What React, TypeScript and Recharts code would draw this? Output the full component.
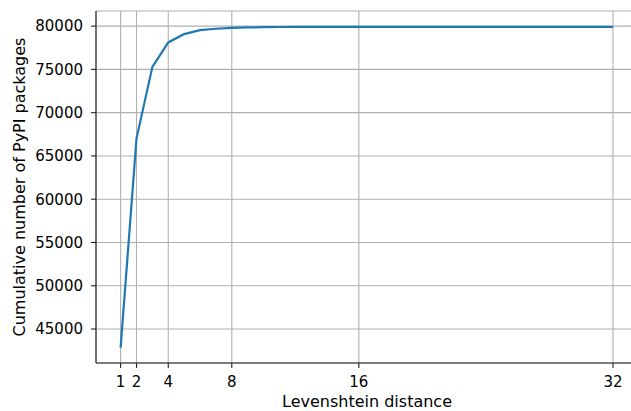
import React from 'react'
import { LineChart, Line, XAxis, YAxis, CartesianGrid } from 'recharts'

const distances = [
  1, 2, 3, 4, 5, 6, 7, 8, 9, 10, 11, 12, 13, 14, 15, 16,
  17, 18, 19, 20, 21, 22, 23, 24, 25, 26, 27, 28, 29, 30, 31, 32,
]
const cumulative = [
  42850, 67000, 75300, 78120, 79080, 79530, 79700, 79800, 79850, 79880, 79900, 79910, 79914, 79917, 79919, 79920,
  79921, 79921, 79922, 79922, 79922, 79923, 79923, 79923, 79923, 79924, 79924, 79924, 79924, 79924, 79925, 79925,
]
const xTicks = [1, 2, 4, 8, 16, 32]
const yTicks = [45000, 50000, 55000, 60000, 65000, 70000, 75000, 80000]

const data = distances.map((d, i) => ({ d, n: cumulative[i] }))

const FONT = '"DejaVu Sans", sans-serif'
const FS = 15
const LABEL_FS = 16
const SPINE = '#222'

const xDomain = [-0.55, 33.55]
const yDomain = [41070, 81750]

export default function App() {
  const yLabel = () => (
    <text
      x={19}
      y={187}
      transform="rotate(-90 19 187)"
      textAnchor="middle"
      dominantBaseline="central"
      fontFamily={FONT}
      fontSize={LABEL_FS}
      fill="#000"
    >
      Cumulative number of PyPI packages
    </text>
  )
  const xLabel = () => (
    <text x={367} y={407} textAnchor="middle" fontFamily={FONT} fontSize={LABEL_FS} fill="#000">
      Levenshtein distance
    </text>
  )
  return (
    <div style={{ position: 'fixed', left: 0, top: 0, width: 631, height: 411, overflow: 'hidden', background: '#fff' }}>
      <LineChart width={640} height={411} data={data} margin={{ top: 11, right: 2.4, bottom: 0, left: 0 }}>
        <CartesianGrid stroke="#b0b0b0" strokeWidth={1.1} />
        <XAxis
          dataKey="d"
          type="number"
          domain={xDomain}
          ticks={xTicks}
          allowDataOverflow
          height={48}
          tickSize={5}
          tickMargin={8}
          axisLine={{ stroke: SPINE, strokeWidth: 1.1 }}
          tickLine={{ stroke: SPINE, strokeWidth: 1.1 }}
          tick={{ fontFamily: FONT, fontSize: FS, fill: '#000' }}
          label={xLabel}
        />
        <XAxis
          xAxisId="top"
          orientation="top"
          type="number"
          domain={xDomain}
          height={0}
          tick={false}
          tickLine={false}
          axisLine={{ stroke: SPINE, strokeWidth: 1.1 }}
        />
        <YAxis
          type="number"
          domain={yDomain}
          ticks={yTicks}
          allowDataOverflow
          width={96}
          tickSize={5}
          tickMargin={8}
          axisLine={{ stroke: SPINE, strokeWidth: 1.1 }}
          tickLine={{ stroke: SPINE, strokeWidth: 1.1 }}
          tick={{ fontFamily: FONT, fontSize: FS, fill: '#000' }}
          label={yLabel}
        />
        <Line
          dataKey="n"
          type="linear"
          stroke="#1f77b4"
          strokeWidth={2.2}
          dot={false}
          activeDot={false}
          isAnimationActive={false}
        />
      </LineChart>
    </div>
  )
}
